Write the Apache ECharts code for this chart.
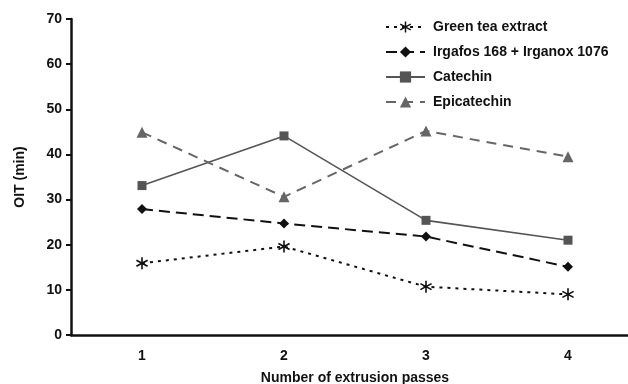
<!DOCTYPE html>
<html>
<head>
<meta charset="utf-8">
<script src="https://cdn.jsdelivr.net/npm/echarts@6/dist/echarts.min.js"></script>
<style>
  html, body { margin: 0; padding: 0; background: #fff; overflow: hidden; }
  #wrap { width: 628px; height: 384px; overflow: hidden; }
  #chart { width: 640px; height: 384px; }
</style>
</head>
<body>
<div id="wrap"><div id="chart"></div></div>
<script>
// Oxidation induction time after repeated extrusion passes
const passes = ['1', '2', '3', '4'];
const greenTea = [15.9, 19.6, 10.7, 9.0];
const irgafos = [27.9, 24.7, 21.8, 15.1];
const catechin = [33.1, 44.1, 25.4, 21.0];
const epicatechin = [44.9, 30.6, 45.2, 39.5];
const yTicks = { min: 0, max: 70, interval: 10 };

// six-armed asterisk marker built from three bars
const asterisk = 'path://M-1,-8 L1,-8 L1,8 L-1,8 Z ' +
  'M6.43,4.87 L-7.43,-3.13 L-6.43,-4.87 L7.43,3.13 Z ' +
  'M-7.43,3.13 L6.43,-4.87 L7.43,-3.13 L-6.43,4.87 Z';

const font = 'Liberation Sans, Arial, sans-serif';
const textBase = { fontFamily: font, fontWeight: 'bold', fontSize: 14, color: '#111' };

const chart = echarts.init(document.getElementById('chart'), null, { renderer: 'canvas' });
chart.setOption({
  animation: false,
  backgroundColor: '#fff',
  grid: { left: 71, top: 19, width: 568, height: 316, containLabel: false, outerBoundsMode: 'none' },
  legend: {
    orient: 'vertical',
    left: 380,
    top: 15,
    itemWidth: 39,
    itemHeight: 14,
    itemGap: 11,
    textStyle: Object.assign({ padding: [0, 0, 0, 3] }, textBase),
    data: ['Green tea extract', 'Irgafos 168 + Irganox 1076', 'Catechin', 'Epicatechin']
  },
  xAxis: {
    type: 'category',
    data: passes,
    boundaryGap: true,
    name: 'Number of extrusion passes',
    nameLocation: 'middle',
    nameGap: 36,
    nameTextStyle: Object.assign({}, textBase),
    axisLine: { lineStyle: { color: '#111', width: 2.5 } },
    axisTick: { length: 5, lineStyle: { color: '#111', width: 2 } },
    axisLabel: Object.assign({ margin: 14 }, textBase),
    splitLine: { show: false }
  },
  yAxis: {
    type: 'value',
    min: yTicks.min,
    max: yTicks.max,
    interval: yTicks.interval,
    name: 'OIT (min)',
    nameLocation: 'middle',
    nameGap: 44,
    nameRotate: 90,
    nameTextStyle: Object.assign({}, textBase),
    axisLine: { show: true, lineStyle: { color: '#111', width: 2.5 } },
    axisTick: { show: true, length: 5, lineStyle: { color: '#111', width: 2 } },
    axisLabel: Object.assign({ margin: 9 }, textBase),
    splitLine: { show: false }
  },
  series: [
    {
      name: 'Green tea extract',
      type: 'line',
      data: greenTea,
      symbol: asterisk,
      symbolSize: 12,
      itemStyle: { color: '#111' },
      lineStyle: { color: '#111', width: 2, type: [3, 5] }
    },
    {
      name: 'Irgafos 168 + Irganox 1076',
      type: 'line',
      data: irgafos,
      symbol: 'diamond',
      symbolSize: 10,
      itemStyle: { color: '#111' },
      lineStyle: { color: '#111', width: 2, type: [11, 6] }
    },
    {
      name: 'Catechin',
      type: 'line',
      data: catechin,
      symbol: 'rect',
      symbolSize: 9,
      itemStyle: { color: '#555' },
      lineStyle: { color: '#555', width: 1.6, type: 'solid' }
    },
    {
      name: 'Epicatechin',
      type: 'line',
      data: epicatechin,
      symbol: 'triangle',
      symbolSize: 11,
      itemStyle: { color: '#666' },
      lineStyle: { color: '#666', width: 2, type: [10, 7] }
    }
  ]
});
</script>
</body>
</html>
